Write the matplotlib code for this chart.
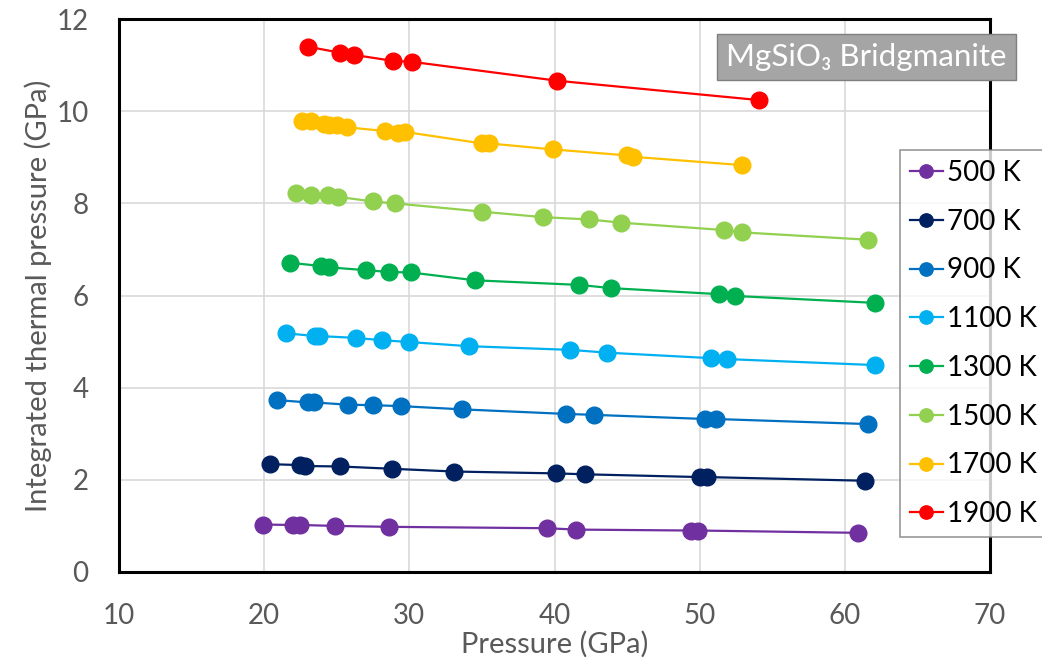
import matplotlib.pyplot as plt

# --- Data ---
p_500 = [19.9, 22.0, 22.5, 24.9, 28.6, 39.5, 41.5, 49.4, 49.9, 60.9]
v_500 = [1.03, 1.02, 1.02, 1.00, 0.98, 0.95, 0.92, 0.90, 0.90, 0.85]

p_700 = [20.4, 22.5, 22.8, 25.2, 28.8, 33.1, 40.1, 42.1, 50.0, 50.5, 61.4]
v_700 = [2.34, 2.32, 2.30, 2.29, 2.24, 2.18, 2.14, 2.12, 2.06, 2.06, 1.98]

p_900 = [20.9, 23.0, 23.4, 25.8, 27.5, 29.4, 33.6, 40.8, 42.7, 50.4, 51.1, 61.6]
v_900 = [3.73, 3.68, 3.68, 3.63, 3.62, 3.60, 3.53, 3.43, 3.41, 3.32, 3.32, 3.21]

p_1100 = [21.5, 23.5, 23.8, 26.3, 28.1, 30.0, 34.1, 41.1, 43.6, 50.8, 51.9, 62.1]
v_1100 = [5.18, 5.12, 5.12, 5.08, 5.03, 4.99, 4.90, 4.82, 4.76, 4.64, 4.62, 4.49]

p_1300 = [21.8, 23.9, 24.5, 27.0, 28.6, 30.1, 34.5, 41.7, 43.9, 51.3, 52.4, 62.1]
v_1300 = [6.71, 6.64, 6.61, 6.55, 6.51, 6.50, 6.33, 6.23, 6.16, 6.03, 5.99, 5.84]

p_1500 = [22.2, 23.2, 24.4, 25.1, 27.5, 29.0, 35.0, 39.2, 42.4, 44.6, 51.7, 52.9, 61.6]
v_1500 = [8.23, 8.18, 8.17, 8.14, 8.04, 8.00, 7.82, 7.70, 7.65, 7.58, 7.42, 7.37, 7.21]

p_1700 = [22.6, 23.2, 24.1, 24.5, 25.0, 25.7, 28.3, 29.2, 29.7, 35.0, 35.5, 39.9, 45.0, 45.4, 52.9]
v_1700 = [9.79, 9.79, 9.72, 9.70, 9.69, 9.65, 9.57, 9.53, 9.55, 9.30, 9.30, 9.17, 9.04, 9.01, 8.83]

p_1900 = [23.0, 25.2, 26.2, 28.9, 30.2, 40.2, 54.1]
v_1900 = [11.40, 11.27, 11.22, 11.09, 11.07, 10.66, 10.24]

labels = ["500 K", "700 K", "900 K", "1100 K", "1300 K", "1500 K", "1700 K", "1900 K"]
colors = ["#7030A0", "#002060", "#0070C0", "#00B0F0", "#00B050", "#92D050", "#FFC000", "#FF0000"]
series = [(p_500, v_500), (p_700, v_700), (p_900, v_900), (p_1100, v_1100),
          (p_1300, v_1300), (p_1500, v_1500), (p_1700, v_1700), (p_1900, v_1900)]

plt.rcParams['font.family'] = ['Lato', 'DejaVu Sans']

fig = plt.figure(figsize=(10.42, 6.65), dpi=100)
ax = fig.add_axes([119 / 1042, 1 - 572 / 665, (990 - 119) / 1042, (572 - 19) / 665])

for (p, v), lab, c in zip(series, labels, colors):
    ax.plot(p, v, '-o', color=c, lw=1.6, markersize=12, label=lab, zorder=3)

ax.set_xlim(10, 70)
ax.set_ylim(0, 12)
ax.set_xticks(range(10, 71, 10))
ax.set_yticks(range(0, 13, 2))
ax.grid(True, color='#D9D9D9', lw=1.2, zorder=0)
ax.set_axisbelow(True)
ax.tick_params(length=0, labelsize=20, labelcolor='#595959')
ax.tick_params(axis='x', pad=22)
ax.tick_params(axis='y', pad=22)
for s in ax.spines.values():
    s.set_color('black')
    s.set_linewidth(2.2)

ax.set_xlabel("Pressure (GPa)", fontsize=21, color='#595959', labelpad=2)
ax.set_ylabel("Integrated thermal pressure (GPa)", fontsize=21, color='#595959', labelpad=3)

leg = fig.legend(loc='upper left', bbox_to_anchor=(900 / 1042, 1 - 150 / 665),
                 fontsize=20, frameon=True, fancybox=False, handlelength=1.2,
                 handletextpad=0.15, borderpad=0.35, labelspacing=0.82,
                 markerscale=0.8, borderaxespad=0)
leg.get_frame().set_edgecolor('#7F7F7F')
leg.get_frame().set_linewidth(1.2)

fig.text(726 / 1042, 1 - 57 / 665, "MgSiO\u2083 Bridgmanite", fontsize=22.5, color='white',
         va='center', ha='left',
         bbox=dict(boxstyle='square,pad=0.3', facecolor='#A5A5A5', edgecolor='#7F7F7F'))

fig.savefig("out.png", dpi=100)
